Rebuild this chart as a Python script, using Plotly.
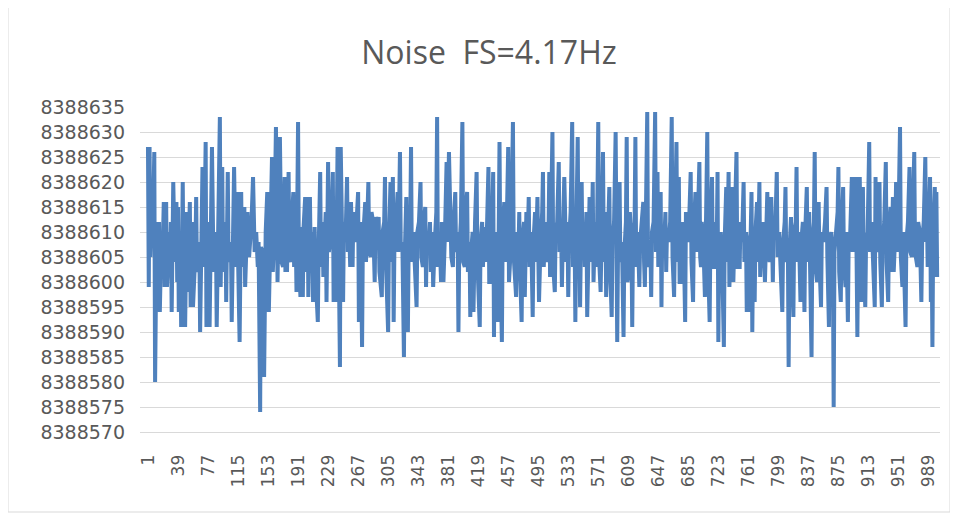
import plotly.graph_objects as go

# ---- data (sample index, value - 8388600) ----
BASE = 8388600

idx_a = [1,2,3,4,6,7,9,10,12,13,15,16,18,19,21,22,24,25,28,29,30,31,33,35,37,38,39,40,42,43,45,46,47,48,50,51,54,55,57,58,61,62,63,66,67,69,70,72,74,75,78,79,82,84,87,88,90,92,93,95,96,99,100,102,103,106,107,110,112,114,115,117]
val_a = [27,-1,27,5,16,9,26,-20,12,3,12,-6,10,2,16,-1,16,-1,10,2,12,-6,20,4,16,0,15,-6,10,-9,20,1,8,-9,14,-2,16,-5,12,-5,6,17,2,8,-10,14,23,3,28,-9,12,-9,27,2,10,-9,18,33,-1,23,2,12,-4,22,4,8,-8,23,3,18,5,-12]

idx_b = [119,120,123,124,127,129,132,134,136,138,140,141,143,144,146,148,150,152,154,156,158,159,161,163,165,168,170,172,174,175,176,177,179,180,182,183,185,186,188,189,191,192,194,195,197,198,200,201,203,204,206,207,209,210,212,213,216,217,219,220,222,223,226,227,229,230,233,235,236,238,239,241,242,244]
val_b = [18,3,15,-1,14,5,12,21,6,10,3,8,-26,7,6,-19,10,18,-6,14,25,2,10,31,0,29,4,3,21,2,12,2,22,5,4,12,18,3,10,-2,32,5,-3,11,-3,11,17,2,17,-3,17,5,10,-4,11,2,-8,6,22,3,12,1,14,-4,24,6,10,22,-4,12,-4,27,5,-17]

idx_c = [245,246,248,249,251,253,254,255,257,258,260,261,263,265,267,268,270,272,273,276,277,280,281,283,284,286,288,289,291,293,294,297,298,300,301,302,305,306,308,309,311,312,313,315,317,318,320,321,323,325,326,328,329,330,331,333,334,335,337,339,341,342,344,346,347,349,350,352,353,354,356,358,359,361,362,364,366,367,368,370,372,373,375,377,379,380,382]
val_c = [27,10,-4,12,8,21,6,15,3,16,3,14,8,12,18,-8,12,-13,8,16,4,20,6,5,14,12,0,13,8,13,2,-3,10,12,21,5,-10,8,20,4,21,-8,8,12,18,6,26,7,8,-15,5,17,4,-10,8,12,27,4,10,3,-5,10,12,20,5,3,12,15,-1,10,6,12,2,10,-1,8,14,33,3,10,0,12,0,10,24,8,26]

idx_d = [385,387,388,390,391,393,394,395,397,399,400,402,403,405,406,408,409,410,412,413,415,417,418,421,422,424,425,427,428,430,432,433,435,436,438,439,440,442,444,445,446,447,449,450,452,453,455,457,458,460,461,463,464,467,468,470,471,472,474,475,477,478,480,481,483,484,486,488,489,491,492,494,495,496,498,500,501,502,504,505,508,509]
val_d = [5,3,12,18,6,10,-10,6,12,32,4,3,14,18,2,8,-7,6,10,-6,12,22,4,-9,8,12,3,11,4,10,23,0,0,12,22,-11,8,10,-8,10,28,5,-12,10,16,4,10,27,0,6,12,32,5,-3,10,6,14,2,-8,8,12,-3,14,4,17,3,10,-7,8,14,4,17,10,-4,8,14,22,3,12,4,10,22]

idx_e = [510,511,512,513,514,516,517,519,521,522,524,525,526,528,529,530,532,533,534,536,538,539,541,542,543,545,546,547,548,549,550,551,553,554,556,557,558,560,561,563,564,565,567,569,571,572,574,575,577,578,580,581,584,585,586,588,589,591,593,594,595,596,598,599,601,603,604,606,607,608,610,611,613,614,615,617,618,619,621,623,624,626,628,629,630,631,633,634]
val_e = [1,8,15,30,3,-2,10,12,24,6,10,-1,8,21,14,4,12,-3,8,14,32,3,10,-8,8,29,4,10,-5,10,20,5,12,3,14,-7,6,17,4,10,20,0,12,3,32,5,-2,10,26,4,14,-3,12,19,3,-7,8,12,30,2,-12,6,20,4,8,-11,6,12,29,0,3,14,8,-9,8,12,29,3,10,-1,8,12,16,4,-1,10,34,3]

idx_f = [637,638,639,641,643,644,646,647,648,650,651,652,654,656,657,658,660,662,664,665,667,668,670,671,673,674,676,677,679,681,682,684,686,688,689,691,692,694,695,697,699,700,701,702,704,706,707,709,710,712,713,715,716,718,719,721,722,723,724,726,728,730,731,733,734,736,737,739,741,742,744,746,747,750,751,753,755,756,758,759,760]
val_f = [8,-3,10,12,34,6,22,3,12,18,-5,10,6,14,2,10,8,12,33,5,-3,10,28,4,21,0,0,12,10,-8,14,8,12,22,4,-4,10,18,6,12,24,5,3,12,8,-3,10,30,4,-8,10,21,3,3,12,8,22,-12,6,10,3,-13,8,19,4,22,-1,10,19,0,10,26,3,3,12,8,20,4,10,-6,8]

idx_g = [761,762,764,765,766,767,769,770,772,773,775,776,778,779,780,782,783,785,786,788,790,791,792,793,795,797,798,800,802,804,805,807,808,809,811,812,813,815,816,818,819,821,822,823,825,827,828,830,832,833,835,836,838,839,841,842,844,845,846,848,849,850,851,853,854,856,858,860,861,863,864,866,868,869,870,872,874,875,876,878,879,881,882,884,885,887,888]
val_g = [-6,8,10,18,-10,6,-4,10,16,4,20,1,10,4,12,0,10,18,6,4,17,8,0,12,10,22,5,10,3,-6,8,12,19,4,8,-17,6,13,4,-7,10,12,23,4,10,-4,8,12,-6,10,19,4,14,6,-15,8,12,26,3,0,10,16,4,-5,10,8,12,19,5,-9,8,10,4,-25,6,10,14,23,2,-4,10,19,4,-1,10,-8,8]

idx_h = [890,892,893,895,897,899,900,902,903,904,905,906,907,909,910,912,914,915,917,919,921,922,923,925,927,928,930,931,933,935,936,938,939,941,942,944,945,947,948,949,951,953,954,956,957,960,961,963,965,966,968,969,971,972,975,976,978,980,981,983,985,986,987,988,990,991,992,993,994,995,997,998,999,1000]
val_h = [10,21,6,12,21,-11,8,21,6,-4,10,19,4,-5,8,10,28,6,12,3,-5,21,6,10,20,4,-5,8,12,24,4,-4,10,15,2,17,2,10,20,6,12,31,5,-1,10,-9,8,12,23,6,5,12,26,6,3,12,10,-4,8,12,25,8,14,3,12,21,-4,8,-13,10,19,1,18,1]

x_ticks = [1, 39, 77, 115, 153, 191, 229, 267, 305, 343, 381, 419, 457, 495, 533,
           571, 609, 647, 685, 723, 761, 799, 837, 875, 913, 951, 989]
y_ticks = [8388570, 8388575, 8388580, 8388585, 8388590, 8388595, 8388600, 8388605,
           8388610, 8388615, 8388620, 8388625, 8388630, 8388635]

segments = [(idx_a, val_a), (idx_b, val_b), (idx_c, val_c), (idx_d, val_d),
            (idx_e, val_e), (idx_f, val_f), (idx_g, val_g), (idx_h, val_h)]
xs, ys = [], []
for ix, vv in segments:
    n = min(len(ix), len(vv))
    xs += ix[:n]
    ys += [BASE + v for v in vv[:n]]

TITLE_FONT = "Open Sans"
TICK_FONT = "DejaVu Sans"
GREY = "#595959"

# the page body adds an 8px offset; layout below is shifted to compensate
OFF = 8
L, T, W, H = 140 - OFF, 107 - OFF, 800, 325

fig = go.Figure()
fig.add_trace(go.Scatter(x=xs, y=ys, mode="lines",
                         line=dict(color="#4F81BD", width=4),
                         hoverinfo="skip", showlegend=False))

fig.update_layout(
    width=958, height=519,
    margin=dict(l=L, r=958 - L - W, t=T, b=519 - T - H),
    paper_bgcolor="white", plot_bgcolor="white",
    title=dict(text="Noise\u00a0 FS=4.17Hz", font=dict(family=TITLE_FONT, size=32, color=GREY),
               x=(489 - OFF) / 958, xref="container", xanchor="center",
               y=1 - (53 - OFF) / 519, yref="container", yanchor="middle"),
    xaxis=dict(range=[-9.1, 1003.6], tickmode="array", tickvals=x_ticks,
               ticktext=[str(t) for t in x_ticks], tickangle=-90,
               tickfont=dict(family=TICK_FONT, size=17, color=GREY),
               showgrid=False, zeroline=False, showline=True, linecolor="#d9d9d9",
               linewidth=1, ticks="", ticklabelstandoff=15),
    yaxis=dict(range=[8388570, 8388635], tickmode="array", tickvals=y_ticks,
               ticktext=[str(t) for t in y_ticks],
               tickfont=dict(family=TICK_FONT, size=19, color=GREY),
               showgrid=True, gridcolor="#d9d9d9", gridwidth=1, zeroline=False,
               showline=False, ticks="", ticklabelstandoff=14),
    shapes=[dict(type="rect", xref="paper", yref="paper",
                 x0=(8 - 140) / 800, x1=(950 - 140) / 800,
                 y0=(432 - 512) / 325, y1=(432 - 4) / 325,
                 line=dict(color="#d9d9d9", width=1), fillcolor="rgba(0,0,0,0)",
                 layer="below")],
)

fig.write_html("out.html")
